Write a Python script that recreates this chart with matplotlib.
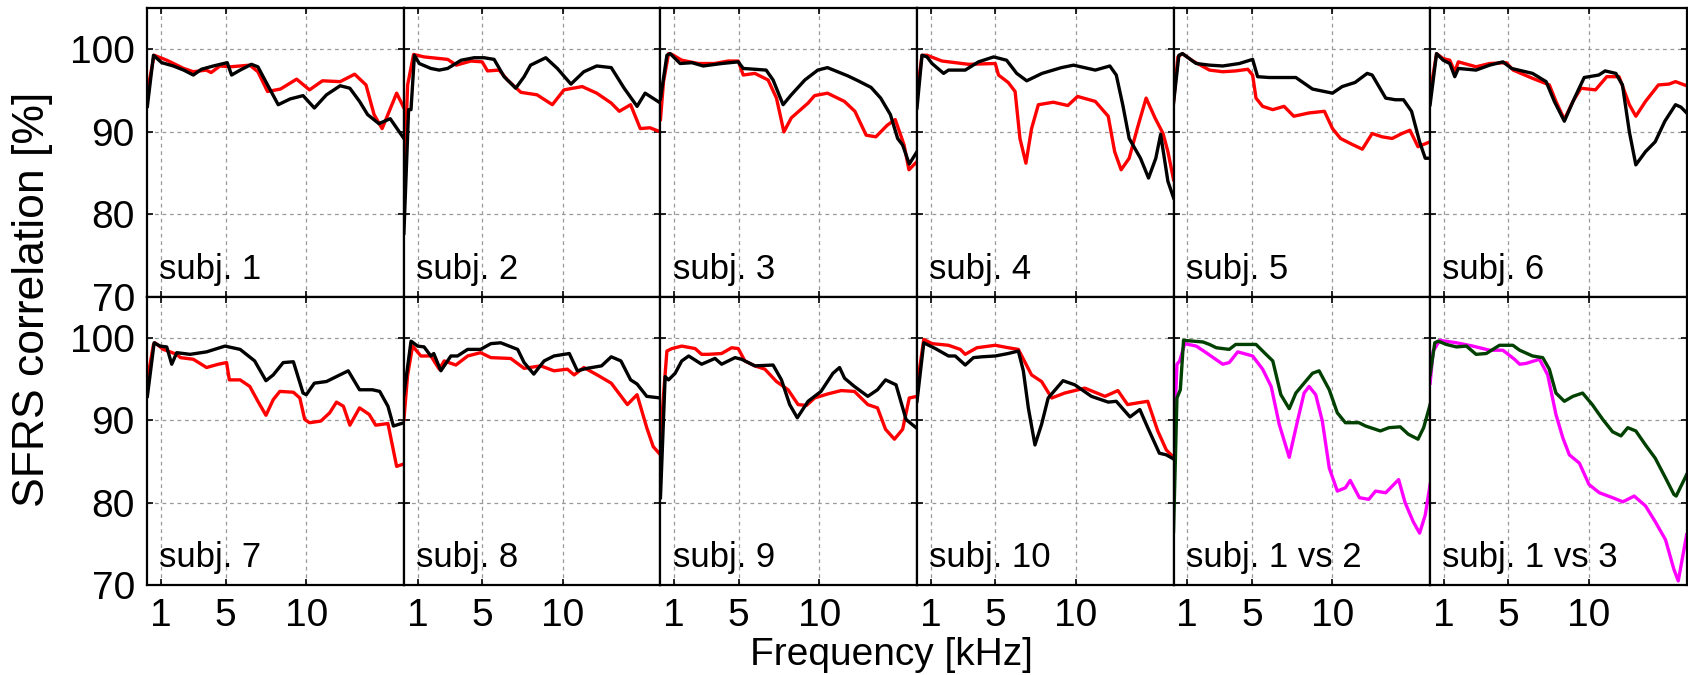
import matplotlib
matplotlib.use("Agg")
import matplotlib.pyplot as plt
import numpy as np

plt.rcParams['font.family'] = ['Liberation Sans', 'DejaVu Sans']

# curves as (frequency kHz, correlation %) pairs
red1 = [(0.15, 94.9), (0.57, 99.3), (1.35, 98.7), (2.4, 97.7), (3.0, 97.3), (3.8, 97.5), (4.1, 97.2), (4.65, 98.0),
        (5.3, 97.9), (6.5, 98.1), (7.0, 97.3), (7.6, 94.9), (8.4, 95.2), (9.4, 96.4), (10.2, 95.1), (11.0, 96.2),
        (12.1, 96.1), (13.0, 97.0), (13.7, 95.7), (14.2, 92.1), (14.7, 90.4), (15.6, 94.7), (16.05, 92.9)]
blk1 = [(0.15, 93.1), (0.53, 99.3), (1.04, 98.4), (1.76, 98.0), (2.4, 97.5), (3.0, 96.9), (3.5, 97.6), (4.24, 98.0),
        (5.1, 98.4), (5.37, 96.9), (5.9, 97.5), (6.6, 98.2), (7.0, 97.9), (7.6, 95.7), (8.26, 93.3), (9.0, 94.0),
        (9.8, 94.4), (10.5, 92.9), (11.25, 94.5), (12.1, 95.6), (12.7, 95.3), (13.3, 93.7), (13.8, 92.1),
        (14.5, 91.0), (15.2, 91.6), (16.05, 89.2)]

red2 = [(0.15, 83.6), (0.38, 95.7), (0.75, 99.4), (1.4, 99.1), (2.86, 98.8), (3.4, 98.1), (4.3, 98.6), (5.0, 98.5),
        (5.33, 97.4), (6.05, 97.5), (6.57, 96.3), (7.4, 94.8), (8.4, 94.5), (9.35, 93.3), (10.07, 95.1),
        (11.2, 95.5), (12.1, 94.7), (13.0, 93.5), (13.5, 92.5), (14.2, 93.3), (14.8, 90.4), (15.4, 90.5),
        (16.05, 90.0)]
blk2 = [(0.15, 77.7), (0.44, 92.7), (0.59, 92.7), (0.8, 99.3), (1.1, 98.3), (1.82, 97.7), (2.34, 97.5),
        (2.86, 97.7), (3.7, 98.7), (4.5, 99.0), (5.12, 99.0), (5.74, 98.8), (6.36, 96.7), (7.08, 95.3),
        (7.6, 96.7), (8.0, 98.1), (8.94, 99.0), (9.66, 97.7), (10.5, 95.8), (11.3, 97.3), (12.1, 98.0),
        (13.0, 97.8), (13.8, 95.3), (14.6, 93.1), (15.1, 94.7), (16.05, 93.5)]

red3 = [(0.15, 91.5), (0.34, 96.1), (0.65, 99.5), (0.86, 99.4), (1.47, 98.7), (2.5, 98.3), (3.5, 98.3),
        (4.35, 98.6), (4.97, 98.6), (5.28, 96.9), (6.0, 97.1), (6.82, 96.3), (7.34, 94.1), (7.8, 90.0),
        (8.26, 91.7), (9.3, 93.5), (9.7, 94.4), (10.5, 94.7), (11.55, 93.7), (12.2, 92.5), (12.9, 89.6),
        (13.5, 89.4), (14.2, 90.8), (14.7, 91.5), (15.25, 88.4), (15.55, 85.4), (16.05, 86.4)]
blk3 = [(0.15, 94.0), (0.55, 99.3), (0.75, 99.5), (1.37, 98.3), (2.1, 98.4), (2.8, 98.0), (3.95, 98.3),
        (4.97, 98.5), (5.28, 97.7), (6.0, 97.6), (6.7, 97.5), (7.13, 96.3), (7.75, 93.3), (8.26, 94.5),
        (9.1, 96.3), (9.9, 97.5), (10.5, 97.8), (11.76, 96.8), (12.4, 96.2), (13.2, 95.4), (13.8, 94.1),
        (14.4, 92.1), (14.85, 89.2), (15.16, 88.4), (15.57, 86.1), (16.05, 87.6)]

red4 = [(0.15, 94.7), (0.46, 99.3), (0.77, 99.3), (1.7, 98.6), (3.35, 98.2), (5.0, 98.3), (5.2, 96.9), (5.8, 96.0),
        (6.23, 94.9), (6.53, 89.2), (6.9, 86.2), (7.25, 90.4), (7.67, 93.3), (8.6, 93.6), (9.5, 93.2),
        (10.1, 94.3), (11.2, 93.7), (12.0, 91.9), (12.4, 87.6), (12.8, 85.4), (13.3, 86.8), (13.8, 90.4),
        (14.35, 94.1), (14.9, 91.7), (15.4, 89.8), (15.7, 87.6), (16.05, 84.2)]
blk4 = [(0.15, 92.9), (0.46, 99.3), (0.77, 99.1), (1.08, 98.3), (1.8, 97.1), (2.1, 97.5), (3.14, 97.5),
        (3.96, 98.5), (4.9, 99.1), (5.7, 98.7), (6.33, 97.1), (6.95, 96.2), (7.9, 97.1), (9.1, 97.8),
        (9.85, 98.1), (11.2, 97.5), (12.1, 98.0), (12.5, 96.9), (12.9, 93.3), (13.3, 89.2), (14.0, 86.8),
        (14.5, 84.4), (14.95, 86.8), (15.25, 89.7), (15.7, 84.0), (16.05, 82.0)]

red5 = [(0.15, 93.7), (0.42, 99.1), (0.7, 99.5), (1.35, 98.6), (2.38, 97.5), (3.2, 97.3), (4.0, 97.4),
        (4.75, 97.6), (5.05, 96.9), (5.26, 94.1), (5.67, 93.1), (6.3, 92.7), (7.0, 93.1), (7.6, 91.9),
        (8.55, 92.3), (9.5, 92.5), (10.0, 90.4), (10.5, 89.2), (11.2, 88.5), (11.85, 87.9), (12.46, 89.8),
        (13.08, 89.4), (13.7, 89.2), (14.3, 89.8), (14.8, 90.2), (15.3, 88.2), (16.05, 88.8)]
blk5 = [(0.15, 93.5), (0.48, 99.3), (0.7, 99.5), (1.55, 98.3), (2.38, 98.1), (3.2, 98.0), (4.23, 98.3),
        (5.05, 98.8), (5.36, 96.7), (6.08, 96.6), (7.73, 96.6), (8.76, 95.2), (10.0, 94.7), (10.6, 95.5),
        (11.4, 96.0), (12.15, 97.1), (12.46, 96.9), (13.3, 94.1), (13.9, 93.9), (14.4, 93.9), (14.9, 92.5),
        (15.4, 88.8), (15.75, 86.8), (16.05, 86.8)]

red6 = [(0.15, 94.7), (0.55, 99.5), (0.96, 98.9), (1.37, 98.7), (1.68, 97.3), (1.9, 98.5), (3.0, 97.9),
        (3.84, 98.3), (4.87, 98.4), (5.3, 97.5), (6.5, 96.5), (7.54, 95.7), (7.95, 93.7), (8.47, 91.5),
        (9.0, 93.7), (9.5, 95.3), (10.4, 95.1), (11.1, 96.7), (11.86, 96.7), (12.5, 93.3), (12.9, 91.9),
        (13.5, 93.7), (14.3, 95.7), (14.95, 95.8), (15.36, 96.1), (16.05, 95.6)]
blk6 = [(0.15, 93.3), (0.55, 99.5), (0.96, 98.7), (1.37, 98.3), (1.68, 96.7), (1.9, 97.7), (3.0, 97.5),
        (3.84, 98.1), (4.66, 98.5), (5.2, 97.7), (6.5, 97.1), (7.34, 96.1), (7.85, 93.7), (8.47, 91.3),
        (9.1, 94.1), (9.7, 96.6), (10.6, 96.9), (11.0, 97.4), (11.66, 97.1), (12.07, 95.7), (12.5, 90.0),
        (12.9, 86.0), (13.5, 87.6), (14.1, 88.8), (14.7, 91.3), (15.36, 93.3), (15.7, 93.0), (16.05, 92.3)]

red7 = [(0.15, 94.9), (0.53, 99.2), (0.62, 99.4), (1.14, 98.6), (1.97, 98.0), (2.2, 97.6), (3.0, 97.4),
        (3.82, 96.4), (4.55, 96.8), (5.06, 97.0), (5.23, 94.9), (5.9, 94.9), (6.5, 94.1), (7.0, 92.3),
        (7.5, 90.6), (7.95, 92.5), (8.36, 93.5), (9.2, 93.4), (9.6, 92.7), (9.9, 90.1), (10.2, 89.7),
        (10.9, 89.9), (11.45, 90.9), (11.87, 92.2), (12.3, 91.7), (12.7, 89.4), (13.3, 91.5), (13.9, 90.7),
        (14.3, 89.4), (15.06, 89.6), (15.6, 84.4), (16.05, 84.7)]
blk7 = [(0.15, 92.9), (0.57, 99.4), (0.94, 99.0), (1.35, 98.9), (1.66, 96.8), (1.97, 98.2), (2.8, 98.0),
        (3.82, 98.3), (4.96, 99.0), (5.9, 98.6), (6.8, 97.2), (7.5, 94.8), (7.95, 95.5), (8.57, 97.0),
        (9.2, 97.1), (9.8, 93.3), (10.0, 93.1), (10.5, 94.5), (11.25, 94.7), (11.87, 95.3), (12.6, 96.0),
        (13.3, 93.7), (14.1, 93.7), (14.55, 93.5), (15.06, 91.7), (15.4, 89.3), (16.05, 89.7)]

red8 = [(0.15, 90.1), (0.38, 95.5), (0.69, 99.0), (1.2, 97.8), (1.82, 97.8), (2.34, 96.2), (2.65, 97.2),
        (3.37, 96.7), (4.1, 97.8), (4.9, 98.2), (5.54, 97.6), (6.77, 97.5), (7.6, 96.3), (8.63, 96.6),
        (9.45, 96.0), (10.28, 96.2), (10.7, 95.5), (11.3, 96.4), (12.13, 95.5), (13.0, 94.5), (14.0, 91.9),
        (14.6, 93.1), (15.2, 89.1), (15.6, 86.8), (16.05, 85.8)]
blk8 = [(0.15, 93.1), (0.59, 99.6), (1.0, 99.0), (1.4, 98.9), (1.82, 97.8), (2.0, 98.1), (2.44, 96.0),
        (3.06, 97.8), (3.47, 97.8), (4.1, 98.6), (4.9, 98.6), (5.54, 99.3), (6.15, 99.4), (7.2, 98.6),
        (7.6, 97.0), (8.2, 95.6), (8.84, 97.2), (9.45, 97.8), (10.4, 98.1), (10.9, 96.0), (11.5, 96.3),
        (12.4, 96.6), (13.0, 97.7), (13.6, 97.2), (14.2, 94.9), (14.6, 94.4), (15.2, 92.9), (16.05, 92.7)]

red9 = [(0.15, 87.4), (0.34, 93.1), (0.55, 98.4), (0.86, 98.7), (1.47, 99.0), (2.3, 98.7), (2.7, 98.0),
        (3.1, 98.0), (3.94, 98.1), (4.56, 98.8), (4.97, 98.7), (5.38, 97.2), (6.0, 96.6), (6.62, 96.2),
        (7.34, 94.7), (8.06, 93.7), (8.68, 91.9), (9.2, 91.8), (9.7, 92.7), (10.53, 93.2), (11.35, 93.6),
        (12.17, 93.5), (13.0, 91.9), (13.6, 91.5), (14.1, 88.9), (14.65, 87.7), (15.16, 88.9), (15.57, 92.7),
        (16.05, 92.9)]
blk9 = [(0.15, 80.6), (0.44, 95.3), (0.65, 94.9), (1.06, 95.7), (1.47, 97.2), (1.9, 97.8), (2.7, 96.8),
        (3.53, 97.5), (3.94, 96.8), (4.77, 97.6), (5.18, 97.4), (6.0, 96.6), (7.13, 96.7), (7.65, 94.9),
        (8.16, 91.9), (8.63, 90.3), (9.3, 92.3), (10.1, 93.5), (10.84, 95.7), (11.25, 96.4), (11.56, 95.1),
        (12.17, 94.1), (13.0, 92.9), (13.6, 93.7), (14.1, 94.9), (14.75, 94.3), (15.37, 90.1), (16.05, 89.0)]

red10 = [(0.15, 94.1), (0.57, 99.8), (1.08, 99.3), (2.1, 99.1), (2.83, 98.6), (3.14, 98.0), (3.86, 98.8),
         (5.0, 99.1), (5.8, 98.8), (6.43, 98.6), (7.25, 95.5), (7.87, 94.7), (8.5, 92.7), (9.3, 93.3),
         (10.55, 93.9), (11.8, 92.9), (12.6, 93.6), (13.2, 91.9), (13.8, 92.1), (14.45, 92.3), (15.07, 88.7),
         (15.6, 86.4), (16.05, 85.5)]
blk10 = [(0.15, 92.3), (0.57, 99.4), (1.29, 98.7), (2.1, 97.8), (2.52, 97.8), (3.14, 96.7), (3.65, 97.6),
         (4.17, 97.7), (5.0, 97.8), (5.8, 98.1), (6.43, 98.4), (6.74, 96.0), (7.05, 91.5), (7.46, 87.0),
         (7.87, 89.5), (8.28, 92.7), (9.2, 94.8), (9.93, 94.3), (10.96, 92.9), (12.0, 92.2), (12.5, 92.3),
         (13.35, 90.4), (13.96, 91.3), (14.45, 89.1), (15.17, 86.0), (15.6, 85.8), (16.05, 85.3)]

mag11 = [(0.15, 86.6), (0.36, 96.8), (0.53, 97.2), (0.84, 99.3), (1.56, 99.0), (2.17, 98.2), (3.2, 96.8),
         (3.6, 97.0), (4.13, 98.3), (5.05, 97.8), (5.67, 96.2), (6.2, 94.1), (6.7, 89.5), (7.32, 85.5),
         (7.83, 89.9), (8.24, 93.3), (8.55, 94.1), (8.96, 93.1), (9.37, 89.9), (9.8, 84.2), (10.3, 81.4),
         (10.8, 81.8), (11.1, 82.7), (11.67, 80.6), (12.25, 80.4), (12.67, 81.4), (13.3, 81.2), (14.1, 82.8),
         (14.5, 80.0), (15.0, 77.7), (15.4, 76.3), (15.75, 78.5), (16.05, 82.2)]
grn11 = [(0.15, 76.5), (0.36, 92.7), (0.57, 93.7), (0.77, 99.7), (1.97, 99.5), (2.38, 99.2), (2.8, 98.8),
         (3.6, 98.6), (4.0, 99.2), (4.85, 99.2), (5.26, 99.2), (5.88, 98.0), (6.3, 97.2), (6.8, 93.1),
         (7.32, 91.4), (7.73, 93.3), (8.24, 94.5), (8.76, 95.7), (9.17, 96.0), (9.8, 93.7), (10.3, 90.9),
         (10.8, 89.7), (11.64, 89.7), (12.05, 89.3), (12.97, 88.7), (13.5, 89.1), (14.2, 89.2), (14.7, 88.3),
         (15.3, 87.7), (15.65, 89.1), (16.05, 91.9)]

mag12 = [(0.15, 94.5), (0.34, 98.4), (0.75, 99.7), (1.78, 99.4), (2.8, 99.0), (3.84, 98.5), (4.66, 98.5),
         (5.38, 97.4), (5.7, 96.8), (6.1, 96.9), (6.93, 97.4), (7.44, 95.5), (7.95, 90.7), (8.37, 87.9),
         (8.78, 85.8), (9.4, 84.8), (10.0, 82.2), (10.64, 81.2), (11.46, 80.6), (12.1, 80.1), (12.8, 80.8),
         (13.5, 79.6), (14.1, 77.7), (14.74, 75.5), (15.26, 71.9), (15.53, 70.5), (16.05, 76.1)]
grn12 = [(0.15, 95.5), (0.44, 99.4), (0.65, 99.6), (1.16, 99.2), (1.78, 98.9), (2.4, 99.0), (3.0, 98.0),
         (3.63, 98.1), (4.45, 99.1), (5.28, 99.1), (5.7, 98.5), (6.5, 97.8), (7.13, 97.6), (7.54, 96.2),
         (7.95, 93.3), (8.47, 92.3), (9.0, 92.9), (9.6, 93.3), (10.2, 91.9), (10.85, 90.1), (11.46, 88.6),
         (11.98, 88.1), (12.4, 89.1), (12.9, 88.7), (13.5, 87.0), (14.1, 85.4), (14.74, 83.0), (15.26, 81.0),
         (15.4, 80.8), (16.05, 83.4)]

labels = ["subj. 1", "subj. 2", "subj. 3", "subj. 4", "subj. 5", "subj. 6",
          "subj. 7", "subj. 8", "subj. 9", "subj. 10", "subj. 1 vs 2", "subj. 1 vs 3"]
pairs = [(red1, blk1), (red2, blk2), (red3, blk3), (red4, blk4), (red5, blk5), (red6, blk6),
         (red7, blk7), (red8, blk8), (red9, blk9), (red10, blk10), (mag11, grn11), (mag12, grn12)]
xticks = [1, 5, 10]
yticks = [70, 80, 90, 100]

fig, axes = plt.subplots(2, 6, figsize=(16.88, 6.75), dpi=100, sharex=True, sharey=True)
fig.subplots_adjust(left=0.0873, right=0.9992, top=0.9877, bottom=0.1333, wspace=0, hspace=0)

for i, ax in enumerate(axes.flat):
    a, b = pairs[i]
    a = np.array(a).T
    b = np.array(b).T
    if i < 10:
        c1, c2 = '#ff0000', 'black'
    else:
        c1, c2 = '#ff00ff', '#004000'
    ax.plot(a[0], a[1], color=c1, lw=2.4)
    ax.plot(b[0], b[1], color=c2, lw=2.4)
    ax.text(0.047, 0.062, labels[i], transform=ax.transAxes, fontsize=25)
    ax.set_xlim(0.15, 16.05)
    ax.set_ylim(70, 105)
    ax.set_xticks(xticks)
    ax.set_yticks(yticks)
    ax.grid(True, color='#999999', ls=(0, (3, 3)), lw=0.9)
    ax.tick_params(direction='in', length=4, width=1.2, labelsize=28,
                   top=True, right=True, pad=9)
    for s in ax.spines.values():
        s.set_linewidth(1.6)

fig.text(12 / 1688, 0.557, "SFRS correlation [%]", rotation=90, fontsize=32,
         va='center', ha='left')
fig.text(0.528, 0.003, "Frequency [kHz]", fontsize=28, ha='center', va='bottom')

fig.savefig("out.png", dpi=100)
